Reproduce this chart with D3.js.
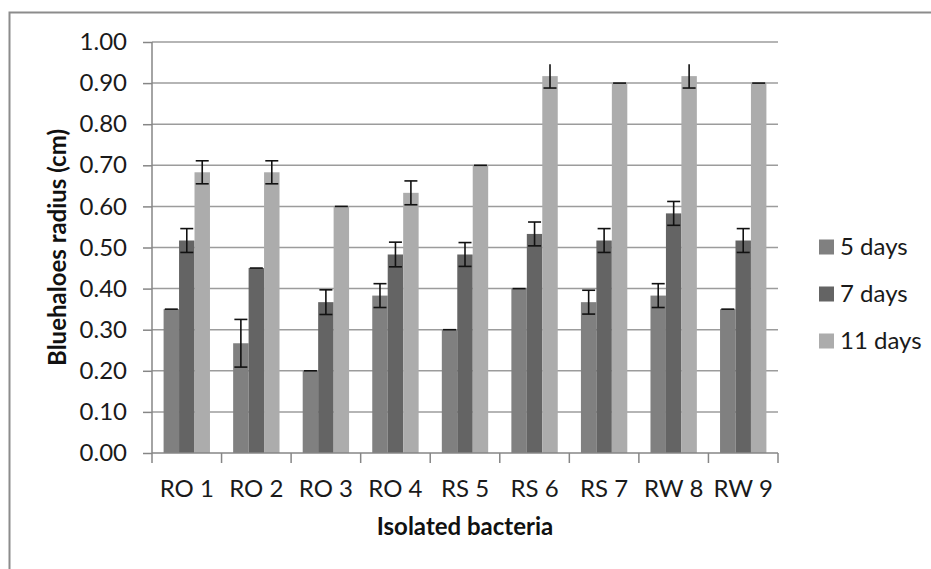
<!DOCTYPE html>
<html>
<head>
<meta charset="utf-8">
<script src="https://cdn.jsdelivr.net/npm/d3@7/dist/d3.min.js"></script>
<style>
  body { margin: 0; background: #fff; }
  svg { display: block; font-family: Lato, "Open Sans", sans-serif; }
</style>
</head>
<body>
<svg id="chart" width="931" height="569"></svg>
<script>
// isolates on the x axis
var categories = ["RO 1", "RO 2", "RO 3", "RO 4", "RS 5", "RS 6", "RS 7", "RW 8", "RW 9"];
var seriesNames = ["5 days", "7 days", "11 days"];

// halo radius (cm)
var days5 = [0.35, 0.267, 0.20, 0.383, 0.30, 0.40, 0.367, 0.383, 0.35];
var days7 = [0.517, 0.45, 0.367, 0.483, 0.483, 0.533, 0.517, 0.583, 0.517];
var days11 = [0.683, 0.683, 0.60, 0.633, 0.70, 0.917, 0.90, 0.917, 0.90];

// +/- error (cm)
var err5 = [0, 0.058, 0, 0.029, 0, 0, 0.029, 0.029, 0];
var err7 = [0.029, 0, 0.03, 0.03, 0.029, 0.029, 0.029, 0.029, 0.029];
var err11 = [0.028, 0.028, 0, 0.029, 0, 0.029, 0, 0.029, 0];

// the original has no upper cap on these 11-day error bars
var noTopCap11 = ["RS 6", "RW 8"];

var yTicks = [0, 0.1, 0.2, 0.3, 0.4, 0.5, 0.6, 0.7, 0.8, 0.9, 1.0];

var colors = ["#808080", "#646464", "#acacac"];
var values = [days5, days7, days11];
var errors = [err5, err7, err11];

function drawChart() {
  var svg = d3.select("#chart");

  // outer chart frame (only top and left visible)
  svg.append("path")
    .attr("d", "M9.5,569 V12.5 H931")
    .style("fill", "none")
    .style("stroke", "#8c8c8c")
    .style("stroke-width", 2);

  var pLeft = 152, pRight = 778, pTop = 42, pBottom = 453;

  var x = d3.scaleBand().domain(categories).range([pLeft, pRight]).padding(0);
  var y = d3.scaleLinear().domain([0, 1]).range([pBottom, pTop]);

  // bar width: Excel gap width 150%
  var barW = x.bandwidth() / 4.5;
  var xs = d3.scaleBand().domain(seriesNames)
    .range([barW * 0.75, barW * 0.75 + barW * 3]).padding(0);

  // gridlines
  svg.append("g")
    .selectAll("line")
    .data(yTicks.slice(1))
    .enter().append("line")
    .attr("x1", pLeft).attr("x2", pRight)
    .attr("y1", function(d) { return y(d); })
    .attr("y2", function(d) { return y(d); })
    .style("stroke", "#9c9c9c")
    .style("stroke-width", 1.5);

  // bars
  var groups = svg.append("g").selectAll("g")
    .data(seriesNames)
    .enter().append("g")
    .style("fill", function(d, i) { return colors[i]; });

  groups.selectAll("rect")
    .data(function(d, i) { return values[i].map(function(v, j) { return { cat: categories[j], v: v, s: d }; }); })
    .enter().append("rect")
    .attr("x", function(d) { return x(d.cat) + xs(d.s); })
    .attr("y", function(d) { return y(d.v); })
    .attr("width", xs.bandwidth())
    .attr("height", function(d) { return pBottom - y(d.v); });

  // error bars
  var errData = [];
  seriesNames.forEach(function(s, i) {
    categories.forEach(function(c, j) {
      errData.push({
        cx: x(c) + xs(s) + xs.bandwidth() / 2,
        v: values[i][j],
        e: errors[i][j],
        topCap: !(i === 2 && noTopCap11.indexOf(c) >= 0)
      });
    });
  });

  var eb = svg.append("g")
    .style("stroke", "#111")
    .style("stroke-width", 1.6)
    .selectAll("g")
    .data(errData)
    .enter().append("g");

  eb.filter(function(d) { return d.e > 0; }).append("line")
    .attr("x1", function(d) { return d.cx; }).attr("x2", function(d) { return d.cx; })
    .attr("y1", function(d) { return y(d.v + d.e); })
    .attr("y2", function(d) { return y(d.v - d.e); });

  eb.filter(function(d) { return d.topCap; }).append("line")
    .attr("x1", function(d) { return d.cx - 6.5; }).attr("x2", function(d) { return d.cx + 6.5; })
    .attr("y1", function(d) { return y(d.v + d.e); })
    .attr("y2", function(d) { return y(d.v + d.e); });

  eb.filter(function(d) { return d.e > 0; }).append("line")
    .attr("x1", function(d) { return d.cx - 6.5; }).attr("x2", function(d) { return d.cx + 6.5; })
    .attr("y1", function(d) { return y(d.v - d.e); })
    .attr("y2", function(d) { return y(d.v - d.e); });

  // y axis
  var yAxis = svg.append("g")
    .attr("transform", "translate(" + pLeft + ",0)")
    .call(d3.axisLeft(y).tickValues(yTicks).tickFormat(d3.format(".2f")).tickSize(9).tickPadding(16));
  yAxis.select(".domain").attr("d", "M0," + pTop + "V" + pBottom);

  // x axis: ticks at category boundaries
  var xAxis = svg.append("g")
    .attr("transform", "translate(0," + pBottom + ")");
  xAxis.append("line")
    .attr("x1", pLeft).attr("x2", pRight)
    .attr("y1", 0).attr("y2", 0);
  xAxis.selectAll(".bound")
    .data(categories.concat([null]))
    .enter().append("line")
    .attr("class", "bound")
    .attr("x1", function(d, i) { return pLeft + i * x.step(); })
    .attr("x2", function(d, i) { return pLeft + i * x.step(); })
    .attr("y1", 0).attr("y2", 10);
  xAxis.selectAll("text")
    .data(categories)
    .enter().append("text")
    .attr("x", function(d) { return x(d) + x.bandwidth() / 2; })
    .attr("y", 44)
    .attr("text-anchor", "middle")
    .text(function(d) { return d; });

  // axis styling
  yAxis.selectAll(".domain, .tick line").style("stroke", "#868686").style("stroke-width", 1.5);
  xAxis.selectAll("line").style("stroke", "#868686").style("stroke-width", 1.5);
  yAxis.selectAll("text").style("font-size", "24px").style("fill", "#1a1a1a").style("font-family", "Lato");
  xAxis.selectAll("text").style("font-size", "24px").style("fill", "#1a1a1a");

  // axis titles
  svg.append("text")
    .attr("x", (pLeft + pRight) / 2)
    .attr("y", 535)
    .attr("text-anchor", "middle")
    .style("font-weight", "bold")
    .style("font-size", "24px")
    .style("fill", "#111")
    .text("Isolated bacteria");

  svg.append("text")
    .attr("transform", "translate(66," + ((pTop + pBottom) / 2) + ") rotate(-90)")
    .attr("text-anchor", "middle")
    .style("font-weight", "bold")
    .style("font-size", "24px")
    .style("fill", "#111")
    .text("Bluehaloes radius (cm)");

  // legend
  var legend = svg.append("g").selectAll("g")
    .data(seriesNames)
    .enter().append("g")
    .attr("transform", function(d, i) { return "translate(819," + (247 + i * 47) + ")"; });
  legend.append("rect")
    .attr("x", 0).attr("y", -7.5)
    .attr("width", 15).attr("height", 15)
    .style("fill", function(d, i) { return colors[i]; });
  legend.append("text")
    .attr("x", 21).attr("y", 8)
    .style("font-size", "24px")
    .style("fill", "#1a1a1a")
    .text(function(d) { return d; });
}

drawChart();
</script>
</body>
</html>
